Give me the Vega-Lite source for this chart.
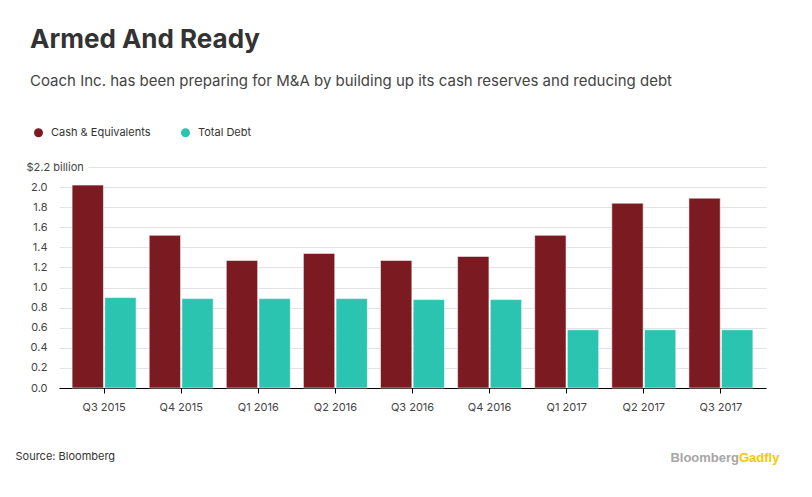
{
  "$schema": "https://vega.github.io/schema/vega-lite/v6.json",
  "width": 707,
  "height": 221,
  "autosize": {"type": "none"},
  "padding": {"left": 59, "top": 167, "right": 46, "bottom": 109},
  "background": "white",
  "title": {
    "text": "Armed And Ready",
    "subtitle": "Coach Inc. has been preparing for M&A by building up its cash reserves and reducing debt",
    "anchor": "start",
    "frame": "group",
    "dx": -29,
    "font": "Inter",
    "fontSize": 26,
    "fontWeight": "bold",
    "color": "#333333",
    "subtitleFont": "Inter",
    "subtitleFontSize": 15,
    "subtitleColor": "#444444",
    "subtitlePadding": 21,
    "offset": 38
  },
  "config": {
    "view": {"stroke": null},
    "font": "Inter",
    "axis": {"labelFont": "Inter", "titleFont": "Inter"},
    "legend": {"labelFont": "Inter"}
  },
  "layer": [
    {
      "data": {
        "values": [
          {"quarter": "Q3 2015", "series": "Cash & Equivalents", "value": 2.02},
          {"quarter": "Q3 2015", "series": "Total Debt", "value": 0.90},
          {"quarter": "Q4 2015", "series": "Cash & Equivalents", "value": 1.52},
          {"quarter": "Q4 2015", "series": "Total Debt", "value": 0.89},
          {"quarter": "Q1 2016", "series": "Cash & Equivalents", "value": 1.27},
          {"quarter": "Q1 2016", "series": "Total Debt", "value": 0.89},
          {"quarter": "Q2 2016", "series": "Cash & Equivalents", "value": 1.34},
          {"quarter": "Q2 2016", "series": "Total Debt", "value": 0.89},
          {"quarter": "Q3 2016", "series": "Cash & Equivalents", "value": 1.27},
          {"quarter": "Q3 2016", "series": "Total Debt", "value": 0.88},
          {"quarter": "Q4 2016", "series": "Cash & Equivalents", "value": 1.31},
          {"quarter": "Q4 2016", "series": "Total Debt", "value": 0.88},
          {"quarter": "Q1 2017", "series": "Cash & Equivalents", "value": 1.52},
          {"quarter": "Q1 2017", "series": "Total Debt", "value": 0.58},
          {"quarter": "Q2 2017", "series": "Cash & Equivalents", "value": 1.84},
          {"quarter": "Q2 2017", "series": "Total Debt", "value": 0.58},
          {"quarter": "Q3 2017", "series": "Cash & Equivalents", "value": 1.89},
          {"quarter": "Q3 2017", "series": "Total Debt", "value": 0.58}
        ]
      },
      "mark": {"type": "bar", "stroke": "white", "strokeWidth": 1, "strokeOpacity": 0.55},
      "encoding": {
        "x": {
          "field": "quarter",
          "type": "nominal",
          "sort": null,
          "scale": {"paddingInner": 0.17, "paddingOuter": 0.17},
          "axis": {
            "title": "Source: Bloomberg",
            "titleAnchor": "start",
            "titleAlign": "left",
            "titleBaseline": "alphabetic",
            "titleX": -44,
            "titleY": 71,
            "titleFontSize": 11,
            "titleFontWeight": "normal",
            "titleColor": "#333333",
            "labelAngle": 0,
            "labelFontSize": 11,
            "labelColor": "#444444",
            "labelPadding": 8,
            "tickSize": 5,
            "tickColor": "#000000",
            "domainColor": "#000000",
            "grid": false
          }
        },
        "xOffset": {
          "field": "series",
          "type": "nominal",
          "scale": {"paddingInner": 0.04}
        },
        "y": {
          "field": "value",
          "type": "quantitative",
          "scale": {"domain": [0, 2.2], "nice": false},
          "axis": {
            "title": null,
            "values": [0, 0.2, 0.4, 0.6, 0.8, 1.0, 1.2, 1.4, 1.6, 1.8, 2.0, 2.2],
            "labelExpr": "datum.value == 2.2 ? '$2.2 billion' : format(datum.value, '.1f')",
            "labelAlign": {"condition": {"test": "datum.value == 2.2", "value": "left"}, "value": "right"},
            "labelPadding": {"condition": {"test": "datum.value == 2.2", "value": 33}, "value": 12},
            "labelFontSize": 11,
            "labelColor": "#444444",
            "domain": false,
            "ticks": false,
            "tickSize": 0,
            "gridColor": "#e2e2e8",
            "gridWidth": 1,
            "gridDash": {"condition": {"test": "datum.value == 2.2", "value": [0, 29, 1000, 0]}, "value": []}
          }
        },
        "color": {
          "field": "series",
          "type": "nominal",
          "scale": {"domain": ["Cash & Equivalents", "Total Debt"], "range": ["#7b1a21", "#2bc4b0"]},
          "legend": {
            "title": null,
            "orient": "none",
            "legendX": -26,
            "legendY": -40,
            "direction": "horizontal",
            "symbolType": "circle",
            "symbolSize": 81,
            "symbolStrokeWidth": 0,
            "labelFontSize": 11,
            "labelColor": "#333333",
            "labelOffset": 7,
            "columnPadding": 29
          }
        }
      }
    },
    {
      "data": {"values": [{"t": "Bloomberg"}]},
      "mark": {"type": "text", "x": 680, "y": 295, "align": "right", "baseline": "alphabetic", "font": "Liberation Sans", "fontSize": 13, "fontWeight": "bold", "color": "#a6a6a6", "letterSpacing": -0.4},
      "encoding": {"text": {"field": "t"}}
    },
    {
      "data": {"values": [{"t": "Gadfly"}]},
      "mark": {"type": "text", "x": 680, "y": 295, "align": "left", "baseline": "alphabetic", "font": "Liberation Sans", "fontSize": 13, "fontWeight": "bold", "color": "#f5c800", "letterSpacing": -0.4},
      "encoding": {"text": {"field": "t"}}
    }
  ]
}
